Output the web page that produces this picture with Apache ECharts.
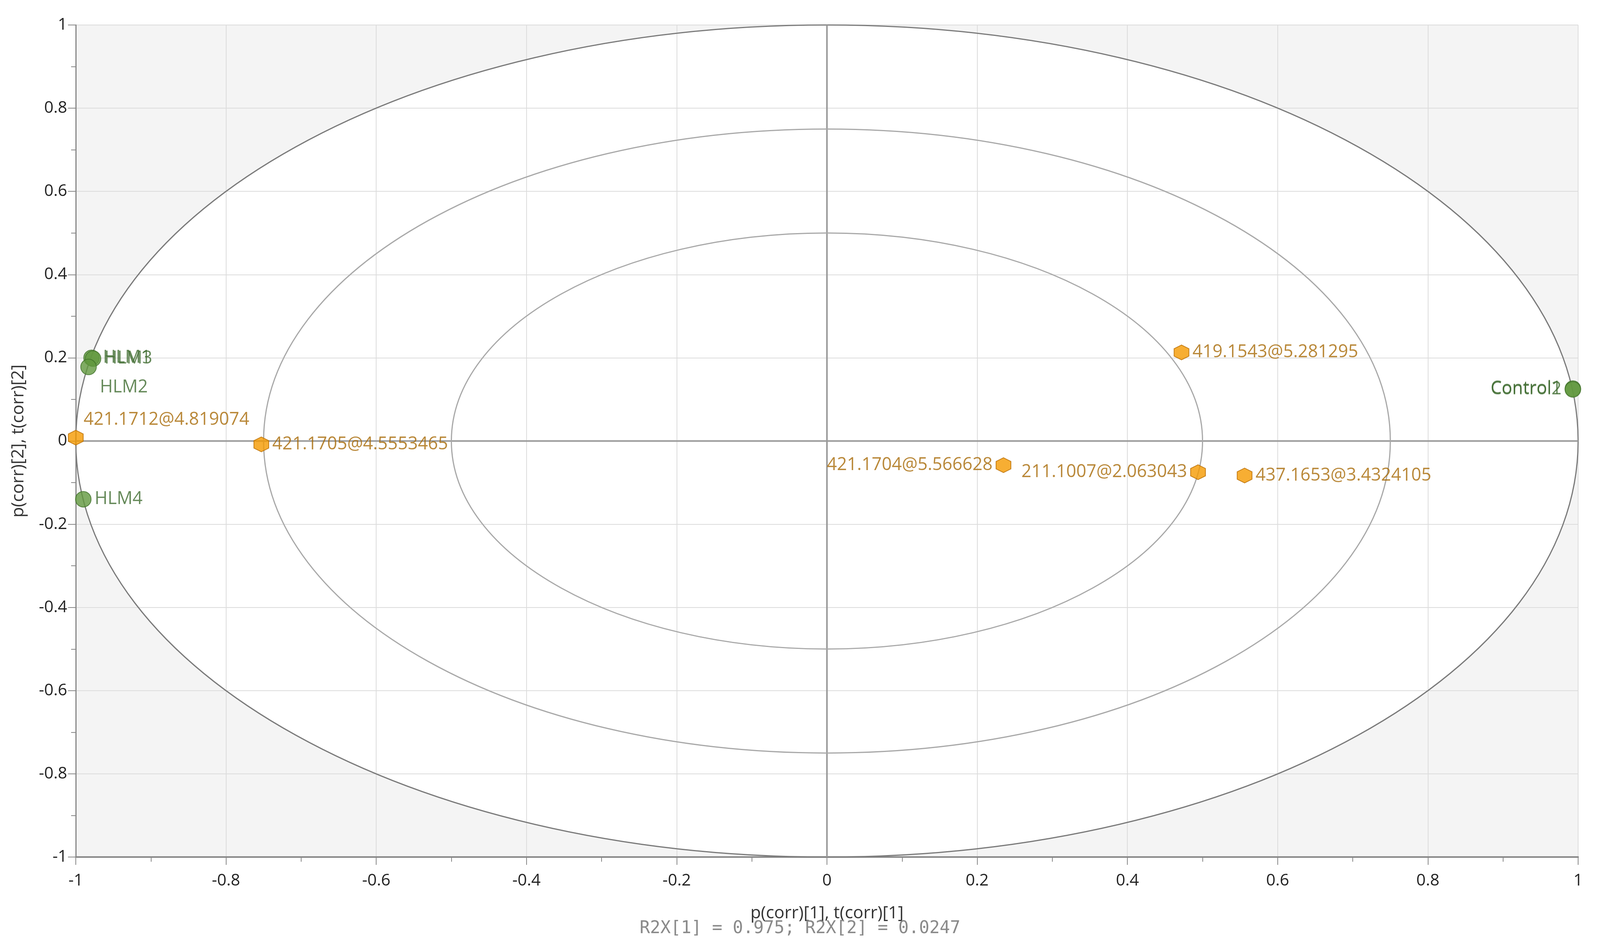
<!DOCTYPE html>
<html>
<head>
<meta charset="utf-8">
<script src="https://cdn.jsdelivr.net/npm/echarts@6/dist/echarts.min.js"></script>
<style>html,body{margin:0;background:#fff;overflow:hidden}#c{width:100vw;height:100vh}</style>
</head>
<body>
<div id="c"></div>
<script>
// observations (green)
const obsNames = ["HLM1", "HLM3", "HLM2", "HLM4", "Control1", "Control2"];
const obsX = [-0.979, -0.977, -0.983, -0.990, 0.993, 0.993];
const obsY = [0.200, 0.198, 0.178, -0.140, 0.126, 0.124];
const obsPos = ["right", "right", "below", "right", "left", "left"];

// variables (orange)
const varNames = ["421.1712@4.819074", "421.1705@4.5553465", "419.1543@5.281295",
                  "421.1704@5.566628", "211.1007@2.063043", "437.1653@3.4324105"];
const varX = [-1.0, -0.753, 0.472, 0.235, 0.494, 0.556];
const varY = [0.008, -0.008, 0.213, -0.058, -0.075, -0.083];
const varPos = ["aboveRight", "right", "right", "left", "left", "right"];

const radii = [1, 0.75, 0.5];

const font = "Open Sans";
const hex = "path://M50,0 L93,25 L93,75 L50,100 L7,75 L7,25 Z";

function labelFor(pos, color) {
    const l = {show: true, color: color, fontSize: 45, fontFamily: font, formatter: "{b}"};
    if (pos == "below") { l.position = "right"; l.offset = [0, 52]; }
    else if (pos == "aboveRight") { l.position = "right"; l.offset = [-8, -46]; }
    else l.position = pos;
    l.distance = 8;
    return l;
}

function ellipse(params, api) {
    const r = api.value(0);
    const c = api.coord([0, 0]);
    const e = api.coord([r, r]);
    const rx = e[0] - c[0], ry = c[1] - e[1];
    return {type: "ellipse", shape: {cx: c[0], cy: c[1], rx: rx, ry: ry},
            style: {fill: null, stroke: r == 1 ? "#7a7a7a" : "#a8a8a8", lineWidth: 3}};
}

const chart = echarts.init(document.getElementById("c"));
chart.setOption({
    animation: false,
    title: {text: "R2X[1] = 0.975; R2X[2] = 0.0247", left: "center", top: 2352,
            textStyle: {fontFamily: "DejaVu Sans Mono", fontWeight: "normal", fontSize: 44, color: "#8a8a8a"}},
    grid: {left: 194, right: 56, top: 64, height: 2131, outerBoundsMode: "none",
           show: true, backgroundColor: "#f4f4f4", borderWidth: 0},
    xAxis: {
        type: "value", min: -1, max: 1, interval: 0.2, z: 3,
        name: "p(corr)[1], t(corr)[1]", nameLocation: "middle", nameGap: 122,
        nameTextStyle: {fontFamily: font, fontSize: 44, color: "#333"},
        axisLine: {onZero: false, lineStyle: {color: "#888", width: 4}},
        axisTick: {length: 20, lineStyle: {color: "#888", width: 2}},
        minorTick: {show: true, splitNumber: 2, length: 12, lineStyle: {color: "#888", width: 2}},
        axisLabel: {fontFamily: font, fontSize: 42, color: "#222", margin: 40,
                    formatter: v => String(Math.round(v * 10) / 10)},
        splitLine: {show: true, lineStyle: {color: "#dcdcdc", width: 2}}
    },
    yAxis: {
        type: "value", min: -1, max: 1, interval: 0.2, z: 3,
        name: "p(corr)[2], t(corr)[2]", nameLocation: "middle", nameGap: 125,
        nameTextStyle: {fontFamily: font, fontSize: 44, color: "#333"},
        axisLine: {onZero: false, show: true, lineStyle: {color: "#888", width: 3}},
        axisTick: {show: true, length: 20, lineStyle: {color: "#888", width: 2}},
        minorTick: {show: true, splitNumber: 2, length: 12, lineStyle: {color: "#888", width: 2}},
        axisLabel: {fontFamily: font, fontSize: 42, color: "#222", margin: 22,
                    formatter: v => String(Math.round(v * 10) / 10)},
        splitLine: {show: true, lineStyle: {color: "#dcdcdc", width: 2}}
    },
    series: [
        {   // white interior of the outer circle, drawn under the grid lines
            type: "custom", z: 1, silent: true, data: [[1]],
            renderItem: function (params, api) {
                const c = api.coord([0, 0]), e = api.coord([1, 1]);
                return {type: "ellipse", shape: {cx: c[0], cy: c[1], rx: e[0] - c[0], ry: c[1] - e[1]},
                        style: {fill: "#ffffff"}};
            }
        },
        {   // circles and centre cross
            type: "custom", z: 4, silent: true, data: radii.map(r => [r]),
            renderItem: function (params, api) {
                const el = ellipse(params, api);
                if (params.dataIndex != 0) return el;
                const a = api.coord([-1, 0]), b = api.coord([1, 0]);
                const t = api.coord([0, 1]), d = api.coord([0, -1]);
                const ls = {stroke: "#9a9a9a", lineWidth: 4};
                return {type: "group", children: [el,
                    {type: "line", shape: {x1: a[0], y1: a[1], x2: b[0], y2: b[1]}, style: ls},
                    {type: "line", shape: {x1: t[0], y1: t[1], x2: d[0], y2: d[1]}, style: ls}]};
            }
        },
        {
            type: "scatter", z: 6, symbol: hex, symbolSize: 38,
            itemStyle: {color: "#f59a00", borderColor: "#b86c00", borderWidth: 2},
            data: varNames.map((n, i) => ({name: n, value: [varX[i], varY[i]], label: labelFor(varPos[i], "#a86a08")}))
        },
        {
            type: "scatter", z: 7, symbol: "circle", symbolSize: 40,
            itemStyle: {color: "#62993f", borderColor: "#3f7028", borderWidth: 2},
            data: obsNames.map((n, i) => ({name: n, value: [obsX[i], obsY[i]], label: labelFor(obsPos[i], "#3f6b2f")}))
        }
    ]
});
</script>
</body>
</html>
